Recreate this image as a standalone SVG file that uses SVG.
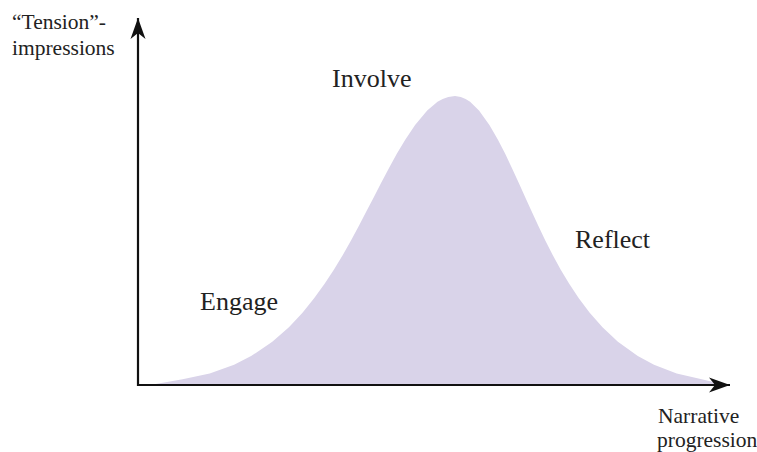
<svg xmlns="http://www.w3.org/2000/svg" width="757" height="452" viewBox="0 0 757 452">
  <style>
    .label { font-family: "Liberation Serif", "Times New Roman", serif; fill: #222; }
    .big { font-size: 26px; }
    .small { font-size: 21.5px; }
    .axis { stroke: #111; stroke-width: 2.2; fill: none; }
    .curve { fill: #d9d3e9; stroke: none; }
  </style>
  <defs>
    <marker id="arrow" markerUnits="userSpaceOnUse" markerWidth="24" markerHeight="18" viewBox="-22 -9 24 18" refX="0" refY="0" orient="auto">
      <path d="M0,0 L-21,-7.5 L-15,0 L-21,7.5 Z" fill="#111"/>
    </marker>
  </defs>

  <!-- tension curve: skewed bell, peak at (455,96) -->
  <g id="curve">
    <path class="curve" d="M150,385
      L182.6,379.2 L209.7,373.4 L234.1,364.8 L251.1,356.1 L272.3,341.7
      L288.9,327.2 L302.5,312.75 L314.1,298.3 L324.6,283.85 L334,269.4
      L342.8,254.95 L351,240.5 L358.8,226.05 L366.3,211.6 L373.8,197.15
      L381.2,182.7 L388.9,168.25 L396.8,153.8 L405.4,139.4 L415.1,124.9
      L427.2,110.5 L437.5,101.8 L442.7,98.9 L448.3,96.9 L455,96
      L460.8,96.9 L465.6,98.9 L470.1,101.8 L479,110.5 L489.4,124.9
      L497.8,139.4 L505.2,153.8 L512,168.25 L518.7,182.7 L525.2,197.15
      L531.7,211.6 L538.4,226.05 L545.3,240.5 L552.7,254.95 L560.6,269.4
      L569.2,283.85 L578.8,298.3 L589.7,312.75 L602.5,327.2 L617.9,341.7
      L637.8,356.1 L654,364.8 L676.7,373.4 L701.7,379.2 L726,385 Z"
      stroke-linejoin="round"/>
  </g>

  <!-- axes -->
  <g id="connectors">
    <line class="axis" x1="138" y1="386" x2="138" y2="18" marker-end="url(#arrow)"/>
    <line class="axis" x1="137" y1="385" x2="730" y2="385" marker-end="url(#arrow)"/>
  </g>

  <g id="y-axis-label">
    <text class="label small" x="12" y="29">“Tension”-</text>
    <text class="label small" x="12" y="55">impressions</text>
  </g>
  <g id="x-axis-label">
    <text class="label small" x="658" y="423">Narrative</text>
    <text class="label small" x="657" y="447">progression</text>
  </g>
  <g id="involve">
    <text class="label big" x="332" y="87">Involve</text>
  </g>
  <g id="engage">
    <text class="label big" x="200" y="310">Engage</text>
  </g>
  <g id="reflect">
    <text class="label big" x="575" y="248">Reflect</text>
  </g>
</svg>
